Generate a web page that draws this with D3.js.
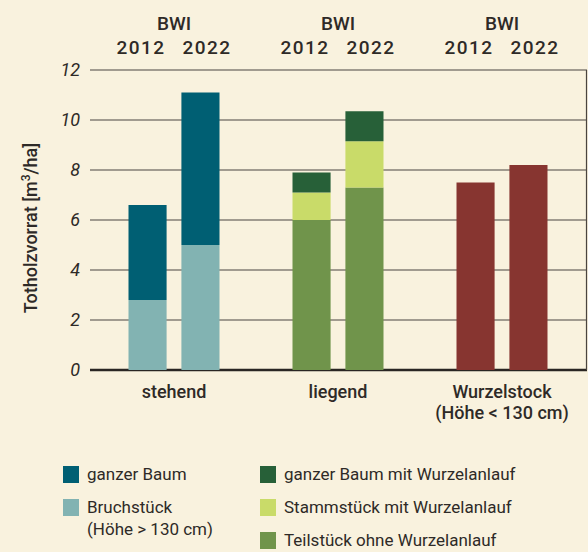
<!DOCTYPE html>
<html>
<head>
<meta charset="utf-8">
<script src="https://cdn.jsdelivr.net/npm/d3@7"></script>
<style>
  body { margin: 0; background: #f9f2de; }
  svg { display: block; font-family: Roboto, "Noto Sans", sans-serif; }
</style>
</head>
<body>
<div id="chart"></div>
<script>
// data
const groups = ['stehend', 'liegend', 'Wurzelstock'];
const years = ['2012', '2022'];
const groupLabels = [['stehend'], ['liegend'], ['Wurzelstock', '(Höhe < 130 cm)']];

const segments = [
  { key: 'Bruchstück', group: 'stehend', color: '#82b3b2', values: [2.8, 5.0] },
  { key: 'ganzer Baum', group: 'stehend', color: '#005f73', values: [3.8, 6.1] },
  { key: 'Teilstück ohne Wurzelanlauf', group: 'liegend', color: '#70944b', values: [6.0, 7.3] },
  { key: 'Stammstück mit Wurzelanlauf', group: 'liegend', color: '#c9db69', values: [1.1, 1.85] },
  { key: 'ganzer Baum mit Wurzelanlauf', group: 'liegend', color: '#276038', values: [0.8, 1.2] },
  { key: 'Wurzelstock', group: 'Wurzelstock', color: '#873530', values: [7.5, 8.2] }
];
const yTicks = [0, 2, 4, 6, 8, 10, 12];

const legendLeft = [
  { color: '#005f73', lines: ['ganzer Baum'] },
  { color: '#82b3b2', lines: ['Bruchstück', '(Höhe > 130 cm)'] }
];
const legendRight = [
  { color: '#276038', lines: ['ganzer Baum mit Wurzelanlauf'] },
  { color: '#c9db69', lines: ['Stammstück mit Wurzelanlauf'] },
  { color: '#70944b', lines: ['Teilstück ohne Wurzelanlauf'] }
];

const w = 588, h = 552;
const margin = { left: 90, right: 1, top: 70, bottom: 182 };
const ink = '#2e2a27';

const svg = d3.select('#chart').append('svg')
  .attr('width', w).attr('height', h);

svg.append('rect').attr('width', w).attr('height', h).attr('fill', '#f9f2de');

const y = d3.scaleLinear().domain([0, 12]).range([h - margin.bottom, margin.top]);

const x0 = d3.scaleBand().domain(groups)
  .range([92, 584]).paddingInner(0).paddingOuter(0);
const x1 = d3.scaleBand().domain(years)
  .range([0, 91]).paddingInner(0.28);
const barOffset = (x0.bandwidth() - 91) / 2;

// gridlines
svg.append('g').selectAll('line')
  .data(yTicks)
  .enter().append('line')
  .attr('x1', margin.left).attr('x2', w - margin.right)
  .attr('y1', d => y(d)).attr('y2', d => y(d))
  .attr('stroke', d => d === 0 ? '#2a2623' : '#4a4440')
  .attr('stroke-width', d => d === 0 ? 2.5 : 1.2);

// right border
svg.append('line')
  .attr('x1', w - 1.5).attr('x2', w - 1.5)
  .attr('y1', y(12)).attr('y2', y(0))
  .attr('stroke', '#4a4440').attr('stroke-width', 1.2);

// y tick labels
svg.append('g').selectAll('text')
  .data(yTicks)
  .enter().append('text')
  .attr('x', 80).attr('y', d => y(d))
  .attr('dy', '0.36em')
  .attr('text-anchor', 'end')
  .attr('font-style', 'italic')
  .attr('font-size', 18)
  .attr('fill', ink)
  .text(d => d);

// y axis title
svg.append('text')
  .attr('transform', 'translate(37,' + (y(6) + 8) + ') rotate(-90)')
  .attr('text-anchor', 'middle')
  .attr('font-size', 18)
  .attr('font-weight', 500)
  .attr('fill', ink)
  .html('Totholzvorrat [m<tspan baseline-shift="super" font-size="12">3</tspan>/ha]');

// stacked bars
groups.forEach(g => {
  const segs = segments.filter(s => s.group === g);
  years.forEach((yr, i) => {
    let base = 0;
    segs.forEach(s => {
      const v = s.values[i];
      svg.append('rect')
        .attr('x', x0(g) + barOffset + x1(yr))
        .attr('width', x1.bandwidth())
        .attr('y', y(base + v))
        .attr('height', y(base) - y(base + v))
        .attr('fill', s.color);
      base += v;
    });
  });
});

// header labels
groups.forEach(g => {
  const cx = x0(g) + x0.bandwidth() / 2;
  svg.append('text')
    .attr('x', cx).attr('y', 30)
    .attr('text-anchor', 'middle')
    .attr('font-size', 19).attr('font-weight', 500)
    .attr('fill', ink)
    .text('BWI');
  years.forEach((yr, i) => {
    svg.append('text')
      .attr('x', cx + (i === 0 ? -33 : 33)).attr('y', 54)
      .attr('text-anchor', 'middle')
      .attr('font-size', 19).attr('font-weight', 500)
      .attr('letter-spacing', 1.5)
      .attr('fill', ink)
      .text(yr);
  });
});

// category labels
groups.forEach((g, gi) => {
  const cx = x0(g) + x0.bandwidth() / 2;
  groupLabels[gi].forEach((t, li) => {
    svg.append('text')
      .attr('x', cx).attr('y', 398 + li * 21)
      .attr('text-anchor', 'middle')
      .attr('font-size', 18).attr('font-weight', 500)
      .attr('fill', ink)
      .text(t);
  });
});

// legend
function drawLegend(items, lx, rows) {
  items.forEach((d, i) => {
    const ty = rows[i];
    svg.append('rect')
      .attr('x', lx).attr('y', ty).attr('width', 16).attr('height', 17)
      .attr('fill', d.color);
    d.lines.forEach((t, li) => {
      svg.append('text')
        .attr('x', lx + 24).attr('y', ty + 14 + li * 22)
        .attr('font-size', 17)
        .attr('fill', ink)
        .text(t);
    });
  });
}
drawLegend(legendLeft, 63, [466, 499]);
drawLegend(legendRight, 260, [466, 499, 532]);
</script>
</body>
</html>
